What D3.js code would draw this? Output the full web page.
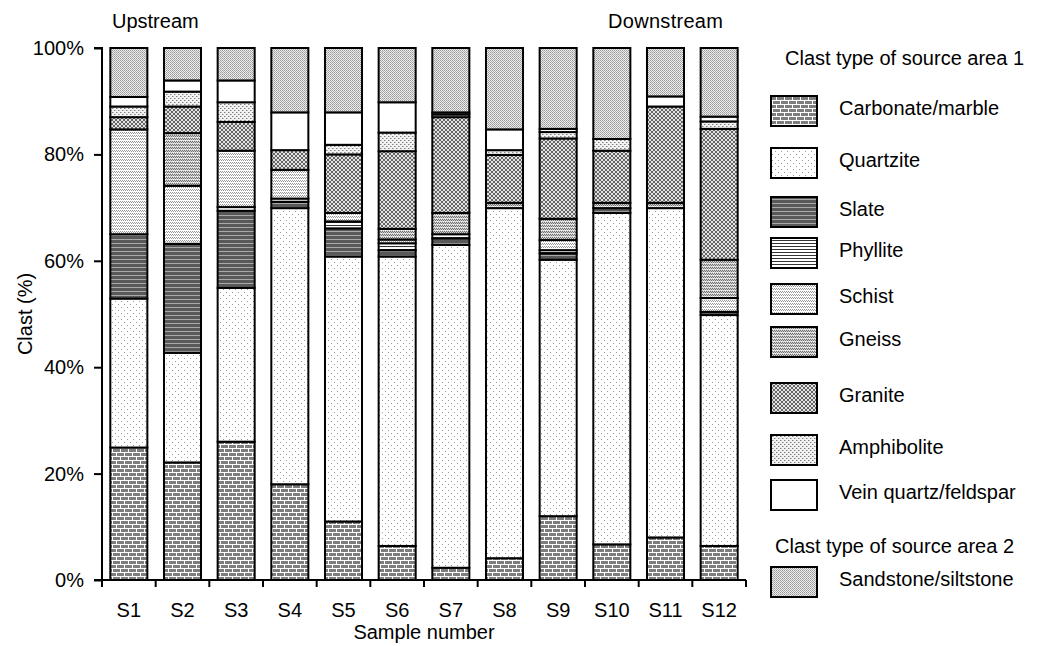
<!DOCTYPE html>
<html><head><meta charset="utf-8">
<script src="https://cdn.jsdelivr.net/npm/d3@7"></script>
<style>
html,body{margin:0;padding:0;background:#fff;}
text{font-family:"Liberation Sans",Arial,sans-serif;fill:#000;}
</style></head>
<body>
<svg id="c" width="1046" height="646"></svg>
<script>
// ---- data ----
const samples = ["S1","S2","S3","S4","S5","S6","S7","S8","S9","S10","S11","S12"];
const carbonate   = [24.9, 22.1, 26.0, 18.0, 11.0, 6.4, 2.3, 4.1, 12.0, 6.7, 8.0, 6.4];
const quartzite   = [28.0, 20.6, 28.9, 51.9, 49.8, 54.4, 60.7, 65.8, 48.2, 62.3, 61.9, 43.4];
const slate       = [12.1, 20.5, 14.5, 1.2, 5.3, 1.2, 1.2, 0, 1.2, 0.9, 0, 0.6];
const phyllite    = [0, 0, 0.7, 0.6, 1.3, 1.3, 0.8, 0, 0.6, 0, 0, 0];
const schist      = [19.7, 10.9, 10.6, 5.4, 1.6, 0.7, 0, 0, 1.9, 0, 0, 2.6];
const gneiss      = [0, 9.9, 0, 0, 0, 2.0, 4.0, 1.0, 4.0, 1.0, 1.0, 7.2];
const granite     = [2.3, 5.0, 5.4, 3.7, 11.0, 14.6, 18.0, 9.0, 15.1, 9.8, 18.1, 24.6];
const amphibolite = [2.0, 2.8, 3.7, 0, 1.8, 3.5, 0.5, 0.9, 1.2, 2.2, 0, 1.4];
const vein        = [1.8, 2.1, 4.1, 7.1, 6.1, 5.7, 0.4, 3.9, 0.6, 0, 1.9, 0.9];
const sandstone   = [9.2, 6.1, 6.1, 12.1, 12.1, 10.2, 12.1, 15.3, 15.2, 17.1, 9.1, 12.9];
const seriesNames = ["Carbonate/marble","Quartzite","Slate","Phyllite","Schist","Gneiss","Granite","Amphibolite","Vein quartz/feldspar","Sandstone/siltstone"];
const seriesValues = [carbonate, quartzite, slate, phyllite, schist, gneiss, granite, amphibolite, vein, sandstone];
const yTicks = [0, 20, 40, 60, 80, 100];
const yTickLabels = ["0%","20%","40%","60%","80%","100%"];

// ---- layout ----
const svg = d3.select("#c");
const plotL = 102, plotR = 746, plotT = 48, plotB = 580;
const x = d3.scaleBand().domain(samples).range([plotL, plotR]).paddingInner(0.31).paddingOuter(0.155);
const y = d3.scaleLinear().domain([0, 100]).range([plotB, plotT]);

// ---- patterns ----
const defs = svg.append("defs");
function pat(id, w, h, bg, px){
  const p = defs.append("pattern").attr("id", id).attr("patternUnits","userSpaceOnUse")
    .attr("x",0).attr("y",0).attr("width",w).attr("height",h);
  p.append("rect").attr("width",w).attr("height",h).attr("fill",bg);
  px.forEach(q=>p.append("rect").attr("x",q[0]).attr("y",q[1]).attr("width",q[2]).attr("height",q[3]).attr("fill",q[4]));
}
const pids = ["p0","p1","p2","p3","p4","p5","p6","p7","p8","p9"];
// carbonate: bricks
pat("p0", 8, 8, "#7e7e7e", [[0,0,8,1,"#fff"],[0,4,8,1,"#fff"],[0,0,1,4,"#fff"],[4,4,1,4,"#fff"]]);
// quartzite: sparse dots
pat("p1", 6, 6, "#fff", [[1,1,1,1,"#999"],[4,4,1,1,"#999"]]);
// slate: dark stripes
pat("p2", 4, 4, "#595959", [[0,3,4,1,"#a8a8a8"]]);
// phyllite: thin black lines
pat("p3", 4, 3, "#fff", [[0,0,4,1,"#333"]]);
// schist: light wavy lines
pat("p4", 4, 3, "#fff", [[0,0,1,1,"#999"],[1,1,1,1,"#999"],[2,0,1,1,"#999"],[3,1,1,1,"#999"]]);
// gneiss: denser grey wavy
pat("p5", 4, 3, "#cfcfcf", [[0,0,1,1,"#707070"],[1,1,1,1,"#707070"],[2,0,1,1,"#707070"],[3,1,1,1,"#707070"],[1,2,1,1,"#fff"],[3,2,1,1,"#eee"]]);
// granite: diamond crosshatch
pat("p6", 4, 4, "#e2e2e2", [[0,0,1,1,"#666"],[1,1,1,1,"#666"],[2,2,1,1,"#666"],[3,3,1,1,"#666"],[3,0,1,1,"#666"],[2,1,1,1,"#666"],[1,2,1,1,"#666"],[0,3,1,1,"#666"]]);
// amphibolite: grey dots
pat("p7", 4, 4, "#f2f2f2", [[0,0,1,1,"#808080"],[2,2,1,1,"#808080"],[1,0,1,1,"#bbb"],[3,2,1,1,"#bbb"]]);
// vein: white
pat("p8", 4, 4, "#fff", []);
// sandstone: fine stipple
pat("p9", 2, 2, "#ececec", [[0,0,1,1,"#999"],[1,1,1,1,"#b0b0b0"]]);

// ---- stack ----
const table = samples.map((s,i)=>{
  const o = {sample:s};
  seriesNames.forEach((k,j)=>{ o[k] = seriesValues[j][i]; });
  return o;
});
const stacked = d3.stack().keys(seriesNames)(table);

const g = svg.append("g");
stacked.forEach((layer, li)=>{
  g.append("g").selectAll("rect")
    .data(layer.filter(d=>d[1]-d[0] > 0))
    .join("rect")
    .attr("x", d=>x(d.data.sample))
    .attr("width", x.bandwidth())
    .attr("y", d=>y(d[1]))
    .attr("height", d=>y(d[0])-y(d[1]))
    .attr("fill", "url(#"+pids[li]+")")
    .attr("stroke", "#000")
    .attr("stroke-width", 2);
});

// ---- axes ----
const yAxis = d3.axisLeft(y).tickValues(yTicks).tickSize(8).tickPadding(10)
  .tickFormat((d,i)=>yTickLabels[i]);
const ya = svg.append("g").attr("transform", `translate(${plotL},0)`).call(yAxis);
ya.select(".domain").attr("stroke","#000").attr("stroke-width",2).attr("d", `M-8,${plotT}H0V${plotB}`);
ya.selectAll(".tick line").attr("stroke","#000").attr("stroke-width",2);
ya.selectAll(".tick text").attr("font-size",20).attr("font-family","Liberation Sans, Arial, sans-serif").attr("fill","#000");

const xAxis = d3.axisBottom(x).tickSize(0).tickPadding(23);
const xa = svg.append("g").attr("transform", `translate(0,${plotB})`).call(xAxis);
xa.select(".domain").attr("stroke","#000").attr("stroke-width",2).attr("d", `M${plotL-8},0H${plotR}`);
xa.selectAll(".tick text").attr("font-size",20).attr("font-family","Liberation Sans, Arial, sans-serif").attr("fill","#000");
// boundary ticks
const bounds = d3.range(samples.length+1).map(i=>x.range()[0] + i*x.step());
svg.append("g").selectAll("line").data(bounds).join("line")
  .attr("x1",d=>d).attr("x2",d=>d).attr("y1",plotB).attr("y2",plotB+7)
  .attr("stroke","#000").attr("stroke-width",2);

// titles
svg.append("text").attr("x",424).attr("y",639).attr("text-anchor","middle").attr("font-size",20).text("Sample number");
svg.append("text").attr("transform","translate(32,314) rotate(-90)").attr("text-anchor","middle").attr("font-size",20).text("Clast (%)");
svg.append("text").attr("x",112).attr("y",28).attr("font-size",20).text("Upstream");
svg.append("text").attr("x",608).attr("y",28).attr("font-size",20).attr("letter-spacing",0.3).text("Downstream");

// ---- legend ----
const legendTop = [96,148,197,238,284,327,383,435,480,567];
svg.append("text").attr("x",785).attr("y",65).attr("font-size",20).text("Clast type of source area 1");
svg.append("text").attr("x",775).attr("y",553).attr("font-size",20).text("Clast type of source  area 2");
const lg = svg.append("g").selectAll("g").data(seriesNames).join("g");
lg.append("rect").attr("x",771).attr("y",(d,i)=>legendTop[i]).attr("width",46).attr("height",30)
  .attr("fill",(d,i)=>"url(#"+pids[i]+")").attr("stroke","#000").attr("stroke-width",2);
lg.append("text").attr("x",839).attr("y",(d,i)=>legendTop[i]+19).attr("font-size",20).text(d=>d);
</script>
</body></html>
